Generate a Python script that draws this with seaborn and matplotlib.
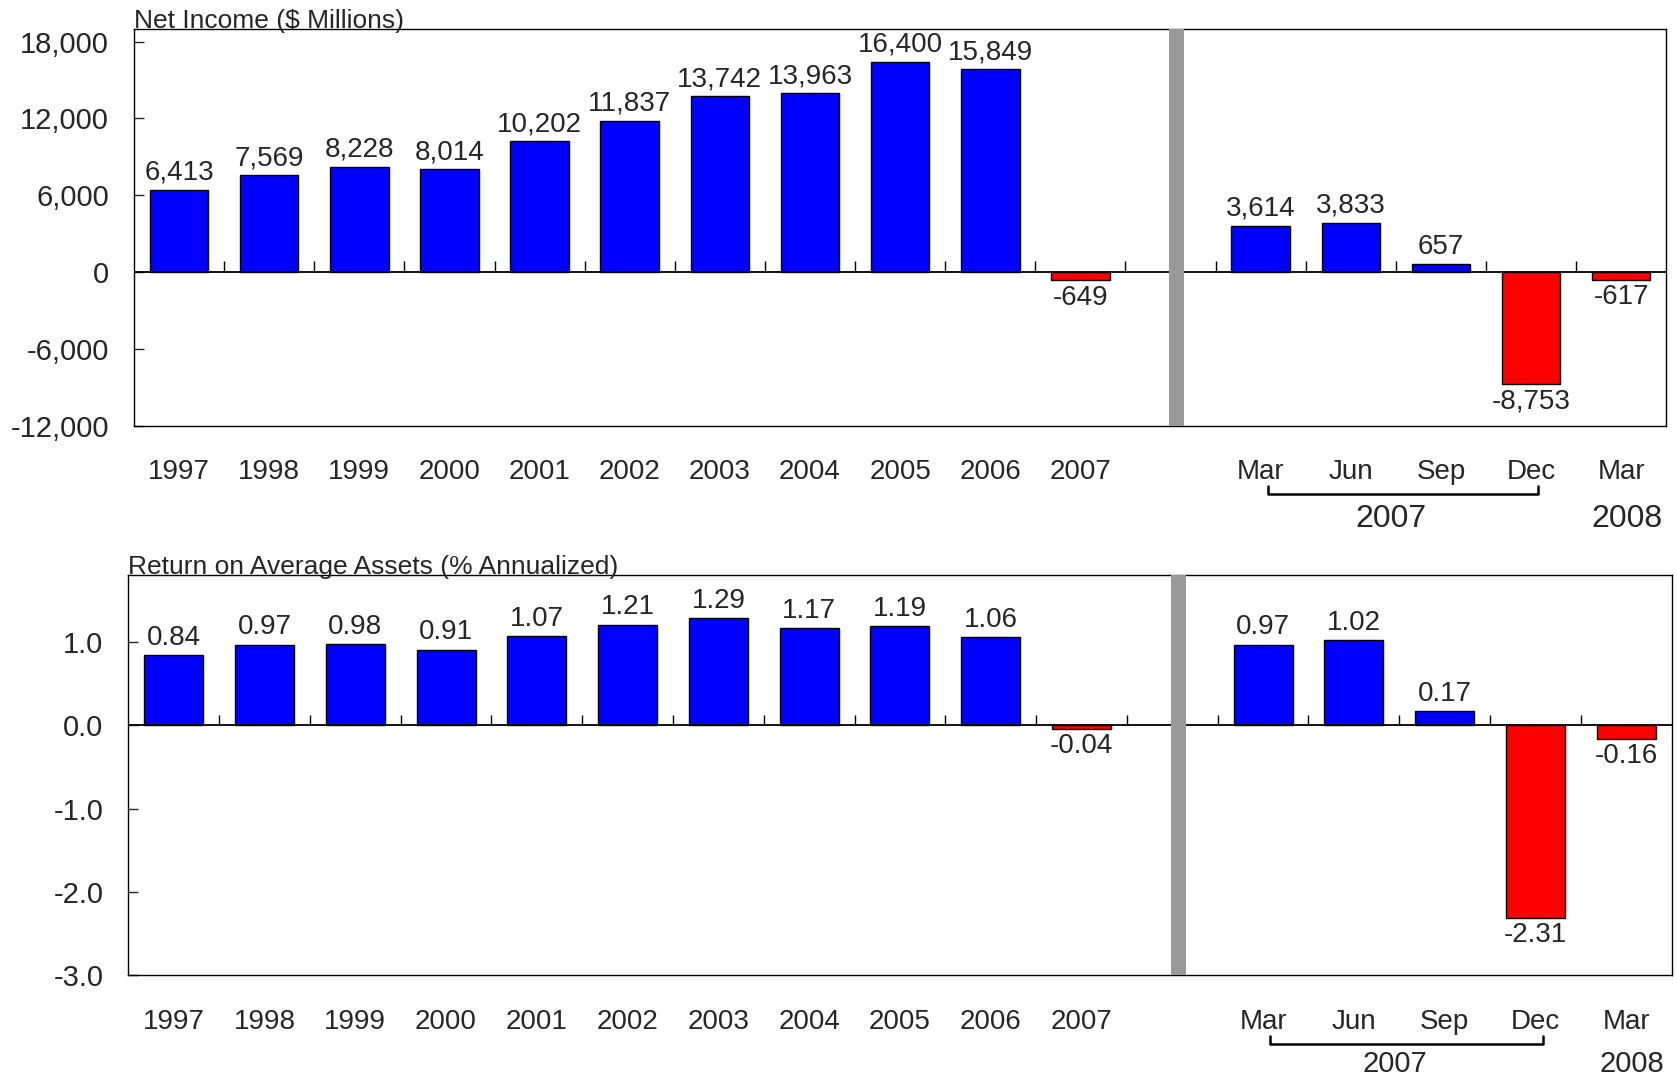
import matplotlib
matplotlib.use("Agg")
import matplotlib.pyplot as plt
import matplotlib.transforms as mtransforms
import pandas as pd
import seaborn as sns

# periods (unique keys) and their axis labels
periods = ["1997", "1998", "1999", "2000", "2001", "2002", "2003", "2004",
           "2005", "2006", "2007", "Mar 07", "Jun 07", "Sep 07", "Dec 07", "Mar 08"]
tick_labels = ["1997", "1998", "1999", "2000", "2001", "2002", "2003", "2004",
               "2005", "2006", "2007", "", "Mar", "Jun", "Sep", "Dec", "Mar"]
net_income = [6413, 7569, 8228, 8014, 10202, 11837, 13742, 13963,
              16400, 15849, -649, 3614, 3833, 657, -8753, -617]
roa = [0.84, 0.97, 0.98, 0.91, 1.07, 1.21, 1.29, 1.17,
       1.19, 1.06, -0.04, 0.97, 1.02, 0.17, -2.31, -0.16]

order = periods[:11] + ["gap"] + periods[11:]
BLUE, RED, GREY = "#0000FF", "#FF0000", "#999999"
FONT = ["Liberation Sans", "DejaVu Sans"]

sns.set_style("white")
plt.rcParams["font.family"] = FONT


def panel(ax, values, title, ylim, yticks, yfmt, lblfmt, ticklen, year_y, year_fs):
    df = pd.DataFrame({"period": periods, "value": values})
    df["sign"] = ["pos" if v >= 0 else "neg" for v in values]
    sns.barplot(data=df, x="period", y="value", hue="sign", order=order,
                palette={"pos": BLUE, "neg": RED}, saturation=1, width=0.65,
                edgecolor="black", linewidth=1.0, legend=False, ax=ax, zorder=2)
    for cont in ax.containers:
        ax.bar_label(cont, fmt=lblfmt, padding=3, fontsize=20)

    n = len(order)
    ax.set_xlim(-0.5, n - 0.5)
    ax.set_ylim(*ylim)
    ax.axhline(0, color="black", lw=1.3, zorder=3)
    bounds = [i + 0.5 for i in range(n - 1)]
    ax.vlines(bounds, 0, ticklen, color="black", lw=1.0, zorder=3)
    ax.axvspan(10.98, 11.15, color=GREY, zorder=4, lw=0)

    ax.set_xticks(range(n))
    ax.set_xticklabels(tick_labels, fontsize=20)
    ax.tick_params(axis="x", length=0, pad=24)
    ax.set_yticks(yticks)
    ax.set_yticklabels([yfmt.format(t) for t in yticks], fontsize=21)
    ax.tick_params(axis="y", direction="in", length=7, width=1, left=True, pad=18)
    ax.set_xlabel("")
    ax.set_ylabel("")
    for s in ax.spines.values():
        s.set_color("black")
        s.set_linewidth(1.0)
    ax.text(0.0, 1.003, title, transform=ax.transAxes, ha="left", va="baseline",
            fontsize=19)

    # year brackets under the quarterly labels
    tr = mtransforms.blended_transform_factory(ax.transData, ax.transAxes)
    x0, x1 = order.index("Mar 07") + 0.08, order.index("Dec 07") + 0.08
    ax.plot([x0, x0, x1, x1], [-0.152, -0.172, -0.172, -0.152], color="black",
            lw=1.8, transform=tr, clip_on=False)
    ax.text(order.index("Jun 07") + 0.45, year_y, "2007", transform=tr,
            ha="center", va="center", fontsize=year_fs)
    ax.text(order.index("Mar 08") + 0.06, year_y, "2008", transform=tr,
            ha="center", va="center", fontsize=year_fs)


fig = plt.figure(figsize=(16.77, 10.81), dpi=100)
ax1 = fig.add_axes([0.0799, 0.6062, 0.9137, 0.3671])
ax2 = fig.add_axes([0.0765, 0.0977, 0.9203, 0.3700])

panel(ax1, net_income, "Net Income ($ Millions)", (-12000, 19000),
      [-12000, -6000, 0, 6000, 12000, 18000], "{:,.0f}", "{:,.0f}", 840,
      -0.235, 23)
panel(ax2, roa, "Return on Average Assets (% Annualized)", (-3.0, 1.8),
      [-3.0, -2.0, -1.0, 0.0, 1.0], "{:.1f}", "{:.2f}", 0.13,
      -0.222, 21)

fig.savefig("out.png", dpi=100)
